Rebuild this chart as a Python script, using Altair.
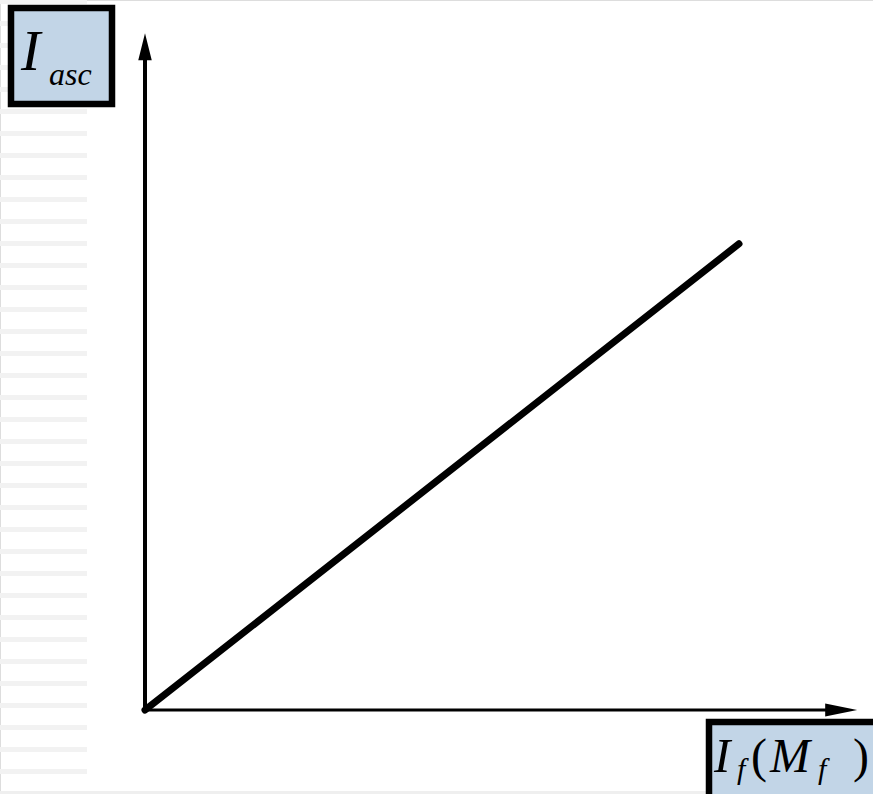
import altair as alt
import pandas as pd

# Characteristic: short-circuit armature current vs. field current (linear)
curve_x = [0.0, 9.9]
curve_y = [0.0, 7.77]

# Axis extents (arrow tips) in the same units
x_axis_end = 11.87
y_axis_end = 11.28

W, H = 873, 794
X_DOMAIN = [-145 / 60, (W - 145) / 60]
Y_DOMAIN = [-84 / 60, 710 / 60]

xs = alt.Scale(domain=X_DOMAIN, nice=False, zero=False)
ys = alt.Scale(domain=Y_DOMAIN, nice=False, zero=False)

# Light slide-background stripes down the left edge
stripe_df = pd.DataFrame({"top": [max(22 * k - 1, 0) for k in range(36)]})
stripe_df["bottom"] = [22 * k + 4 for k in range(36)]
stripes = alt.Chart(stripe_df).mark_rect(color="#f2f2f2").encode(
    x=alt.value(0), x2=alt.value(87),
    y=alt.Y("top:Q", scale=None), y2="bottom:Q",
)
footer = alt.Chart(pd.DataFrame({"a": [0]})).mark_rect(color="#efefef").encode(
    x=alt.value(0), x2=alt.value(W), y=alt.value(791), y2=alt.value(H),
)

axes_df = pd.DataFrame({
    "x": [0.0, 0.0], "y": [0.0, 0.0],
    "x2": [x_axis_end - 0.45, 0.0], "y2": [0.0, y_axis_end - 0.35],
    "w": [3.0, 4.0],
})
axes = alt.Chart(axes_df).mark_rule(color="black").encode(
    x=alt.X("x:Q", scale=xs, axis=None), x2="x2:Q",
    y=alt.Y("y:Q", scale=ys, axis=None), y2="y2:Q",
    strokeWidth=alt.StrokeWidth("w:Q", scale=None),
)

up_arrow = alt.Chart(pd.DataFrame({"x": [0.0], "y": [y_axis_end]})).mark_point(
    shape="M0,0L0.5,2L-0.5,2Z", size=729, filled=True, color="black", opacity=1, strokeWidth=0
).encode(x=alt.X("x:Q", scale=xs, axis=None), y=alt.Y("y:Q", scale=ys, axis=None))

right_arrow = alt.Chart(pd.DataFrame({"x": [x_axis_end], "y": [0.0]})).mark_point(
    shape="M0,0L-2,-0.4L-2,0.4Z", size=1024, filled=True, color="black", opacity=1, strokeWidth=0
).encode(x=alt.X("x:Q", scale=xs, axis=None), y=alt.Y("y:Q", scale=ys, axis=None))

curve = alt.Chart(pd.DataFrame({"x": curve_x, "y": curve_y})).mark_line(
    color="black", strokeWidth=7, strokeCap="round"
).encode(x=alt.X("x:Q", scale=xs, axis=None), y=alt.Y("y:Q", scale=ys, axis=None))

BOX_FILL = "#c2d5e7"
one = pd.DataFrame({"a": [0]})


def box(x1, y1, x2, y2):
    return alt.Chart(one).mark_rect(fill=BOX_FILL, stroke="black", strokeWidth=6.5).encode(
        x=alt.value(x1), x2=alt.value(x2), y=alt.value(y1), y2=alt.value(y2)
    )


def label(txt, x, y, size, italic=True):
    return alt.Chart(one).mark_text(
        text=txt, font="Liberation Serif", fontSize=size,
        fontStyle="italic" if italic else "normal",
        align="left", baseline="alphabetic", color="black",
    ).encode(x=alt.value(x), y=alt.value(y))


y_title = [
    box(11, 8, 112, 104),
    label("I", 21, 70, 58),
    label("asc", 49, 85, 32),
]
x_title = [
    box(709, 722, 884, 804),
    label("I", 714, 772, 49),
    label("f", 737, 779, 30),
    label("(", 751, 772, 48, italic=False),
    label("M", 770, 772, 48),
    label("f", 818, 779, 30),
    label(")", 853, 772, 48, italic=False),
]

chart = alt.layer(
    stripes, footer, axes, up_arrow, right_arrow, curve, *y_title, *x_title
).properties(
    width=W, height=H, padding=0, autosize=alt.AutoSizeParams(type="none")
).configure_view(stroke=None).configure(background="white")

chart.save("out.html", embed_options={"renderer": "svg", "actions": False})
